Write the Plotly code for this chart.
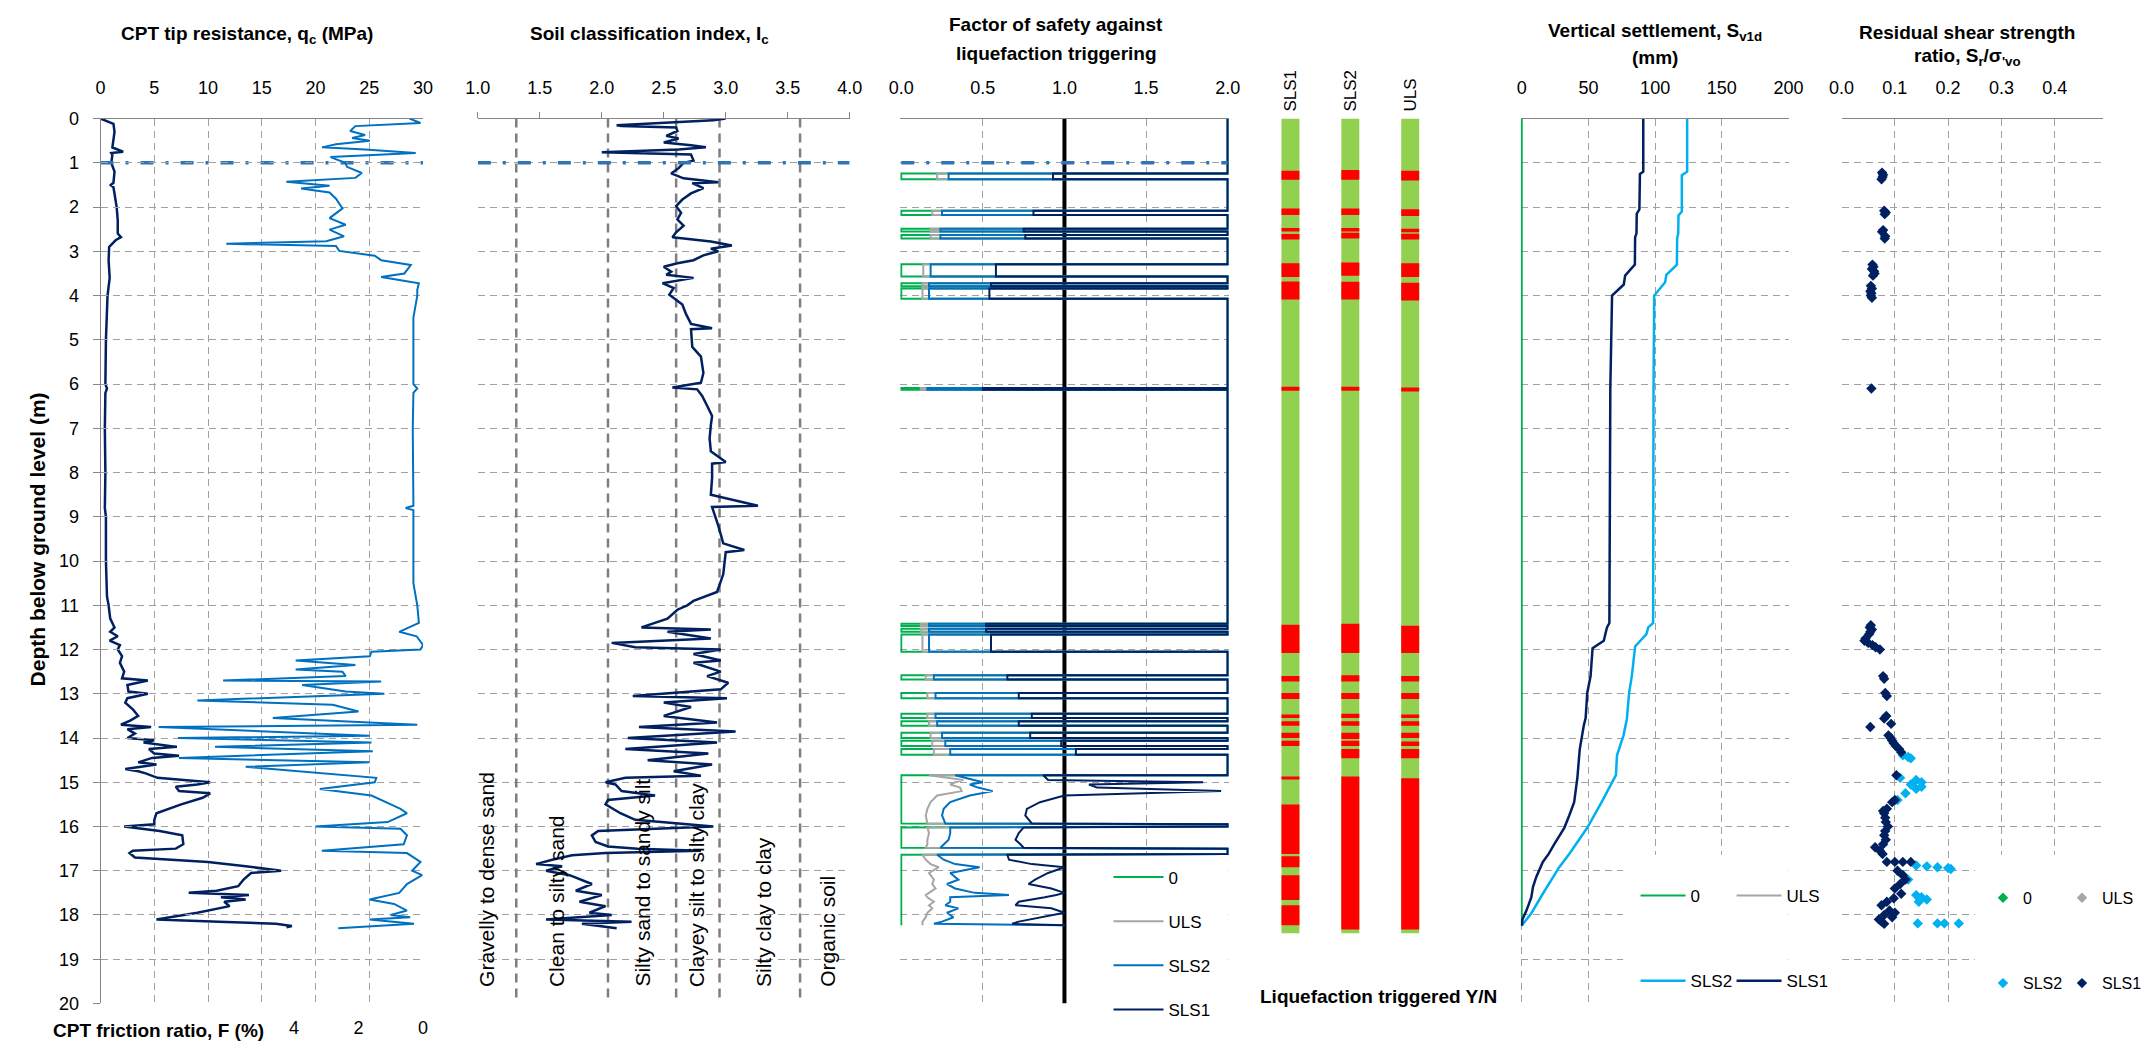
import plotly.graph_objects as go

# ---------------------------------------------------------------- data
# Panel 1: CPT tip resistance qc (MPa) and friction ratio F (%)
qc_depth = [0, 0.12, 0.3, 0.5, 0.65, 0.75, 0.78, 0.82, 1.0, 1.2,
            1.45, 1.5, 1.55, 1.7, 2.0, 2.3, 2.6, 2.68, 2.75, 2.9,
            3.2, 3.6, 4.0, 5.0, 6.0, 6.1, 6.2, 7.0, 8.0, 8.8,
            9.0, 10.0, 10.8, 11.0, 11.3, 11.5, 11.6, 11.7, 11.8, 11.9,
            12.0, 12.15, 12.3, 12.5, 12.65, 12.7, 12.8, 12.95, 13.0, 13.1,
            13.2, 13.35, 13.5, 13.6, 13.7, 13.75, 13.8, 13.9, 14.0, 14.05,
            14.1, 14.2, 14.25, 14.35, 14.4, 14.45, 14.55, 14.6, 14.7, 14.75,
            14.8, 14.9, 15.0, 15.05, 15.1, 15.2, 15.25, 15.35, 15.5, 15.7,
            15.85, 15.95, 16.0, 16.1, 16.2, 16.4, 16.5, 16.55, 16.6, 16.7,
            16.8, 16.9, 17.0, 17.05, 17.2, 17.35, 17.45, 17.5, 17.55, 17.6,
            17.65, 17.7, 17.8, 17.95, 18.05, 18.1, 18.15, 18.2, 18.25, 18.28]
qc_mpa = [0, 1.2, 1.3, 1.2, 1.1, 2.1, 1.0, 1.1, 1.0, 1.3,
          1.2, 0.95, 1.2, 1.3, 1.5, 1.6, 1.6, 1.9, 1.4, 0.8,
          0.75, 0.85, 0.65, 0.5, 0.45, 0.6, 0.45, 0.4, 0.45, 0.4,
          0.5, 0.5, 0.6, 0.75, 0.9, 1.3, 0.9, 1.6, 0.85, 1.8,
          1.6, 2.0, 1.8, 2.2, 2.0, 4.4, 2.5, 2.6, 4.4, 2.5,
          2.3, 3.0, 3.5, 2.8, 1.9, 4.7, 2.5, 3.2, 2.5, 5.0,
          4.0, 7.1, 4.5, 5.0, 7.3, 4.8, 3.5, 5.2, 2.3, 3.5,
          4.2, 5.3, 10.2, 9.0, 7.0, 7.3, 10.2, 9.5, 7.5, 5.2,
          5.0, 5.0, 2.2, 5.5, 7.6, 7.7, 7.0, 3.0, 2.7, 3.2,
          10.0, 13.5, 16.8, 14.0, 13.3, 12.8, 10.8, 8.2, 13.8, 11.2,
          13.5, 11.5, 12.0, 9.0, 6.5, 5.2, 11.0, 16.3, 17.8, 17.3]

fr_depth = [0, 0.1, 0.17, 0.28, 0.37, 0.44, 0.5, 0.58, 0.65, 0.7,
            0.78, 0.87, 1.0, 1.09, 1.23, 1.34, 1.43, 1.52, 1.58, 1.67,
            1.81, 2.03, 2.25, 2.4, 2.51, 2.66, 2.77, 2.83, 2.88, 2.99,
            3.1, 3.2, 3.31, 3.5, 3.58, 3.69, 3.72, 3.87, 4.0, 4.5,
            5.5, 6.0, 6.1, 6.2, 7.0, 8.0, 8.75, 8.8, 8.85, 9.5,
            10.5, 11.0, 11.4, 11.6, 11.7, 11.9, 12.0, 12.05, 12.15, 12.25,
            12.35, 12.45, 12.5, 12.6, 12.7, 12.72, 12.8, 12.95, 13.0, 13.15,
            13.25, 13.4, 13.55, 13.7, 13.75, 13.95, 14.0, 14.1, 14.2, 14.3,
            14.45, 14.55, 14.65, 14.9, 15.0, 15.15, 15.3, 15.5, 15.6, 15.7,
            15.9, 16.0, 16.05, 16.2, 16.4, 16.55, 16.6, 16.8, 17.0, 17.1,
            17.3, 17.5, 17.65, 17.75, 17.9, 18.0, 18.05, 18.1, 18.2, 18.3]
fr_pct = [0.42, 0.08, 2.1, 2.26, 1.8, 2.2, 1.65, 2.7, 3.13, 1.8,
          0.23, 2.87, 2.41, 2.36, 1.9, 2.1, 4.24, 2.9, 3.78, 2.9,
          2.7, 2.5, 2.9, 2.4, 2.9, 2.45, 3.0, 6.1, 2.7, 2.6,
          1.5, 1.3, 0.38, 0.58, 1.3, 0.28, 0.13, 0.18, 0.18, 0.3,
          0.3, 0.3, 0.18, 0.3, 0.32, 0.3, 0.3, 0.54, 0.3, 0.3,
          0.3, 0.18, 0.13, 0.74, 0.2, 0.0, 0.08, 1.6, 1.65, 3.95,
          2.1, 3.95, 2.5, 2.4, 6.2, 1.3, 3.75, 2.4, 1.2, 7.0,
          2.8, 2.0, 4.66, 0.18, 8.2, 1.66, 7.6, 1.6, 6.45, 1.56,
          7.57, 1.66, 5.5, 1.45, 1.5, 3.2, 1.6, 1.0, 0.7, 0.5,
          1.1, 3.34, 0.7, 0.5, 0.6, 3.14, 0.5, 0.08, 0.34, 0.03,
          0.5, 0.74, 1.66, 0.9, 0.5, 1.0, 0.4, 1.66, 0.28, 2.63]

# Panel 2: soil behaviour type index Ic
ic_depth = [0, 0.04, 0.15, 0.17, 0.2, 0.28, 0.39, 0.45, 0.54, 0.6,
            0.65, 0.7, 0.76, 0.81, 0.95, 1.0, 1.12, 1.24, 1.35, 1.44,
            1.46, 1.57, 1.69, 1.83, 1.98, 2.13, 2.28, 2.42, 2.57, 2.68,
            2.78, 2.87, 2.94, 3.0, 3.09, 3.2, 3.27, 3.35, 3.46, 3.53,
            3.6, 3.72, 3.83, 3.98, 4.2, 4.42, 4.64, 4.74, 4.76, 5.16,
            5.38, 5.75, 5.97, 6.08, 6.12, 6.27, 6.49, 6.72, 6.93, 7.23,
            7.52, 7.76, 7.8, 8.12, 8.5, 8.75, 8.78, 9.2, 9.6, 9.75,
            9.8, 10.3, 10.7, 10.9, 11.0, 11.1, 11.3, 11.5, 11.55, 11.6,
            11.75, 11.85, 11.95, 12.0, 12.1, 12.25, 12.3, 12.5, 12.6, 12.75,
            12.9, 13.05, 13.1, 13.2, 13.3, 13.5, 13.65, 13.75, 13.85, 14.0,
            14.1, 14.25, 14.35, 14.5, 14.6, 14.75, 14.85, 14.9, 15.0, 15.05,
            15.2, 15.3, 15.4, 15.5, 15.7, 15.85, 16.0, 16.05, 16.1, 16.2,
            16.35, 16.45, 16.5, 16.55, 16.6, 16.65, 16.75, 16.85, 16.9, 17.0,
            17.1, 17.3, 17.45, 17.55, 17.7, 17.8, 17.95, 18.0, 18.1, 18.15,
            18.2, 18.3]
ic_val = [3.0, 2.9, 2.12, 2.16, 2.6, 2.61, 2.52, 2.62, 2.5, 2.72,
          2.84, 2.62, 2.0, 2.72, 2.74, 2.66, 2.62, 2.56, 2.66, 2.94,
          2.73, 2.82, 2.72, 2.65, 2.6, 2.64, 2.61, 2.66, 2.6, 2.57,
          2.88, 3.05, 2.88, 2.94, 2.82, 2.74, 2.61, 2.5, 2.56, 2.52,
          2.74, 2.49, 2.58, 2.545, 2.65, 2.68, 2.72, 2.89, 2.72, 2.73,
          2.8, 2.82, 2.8, 2.57, 2.77, 2.81, 2.85, 2.89, 2.88, 2.87,
          2.88, 3.0, 2.89, 2.89, 2.88, 3.26, 2.89, 2.94, 2.98, 3.15,
          3.0, 2.98, 2.93, 2.74, 2.69, 2.61, 2.53, 2.32, 2.88, 2.53,
          2.88, 2.08, 2.27, 2.96, 2.74, 2.96, 2.74, 2.96, 2.85, 3.02,
          2.96, 2.25, 3.01, 2.5, 2.72, 2.5, 2.93, 2.3, 3.08, 2.21,
          2.93, 2.19, 2.86, 2.37, 2.89, 2.58, 2.8, 2.19, 2.03, 2.11,
          2.16, 2.43, 2.05, 2.03, 2.15, 2.27, 2.9, 2.45, 1.97, 1.92,
          1.95, 2.05, 2.29, 2.8, 2.03, 1.76, 1.6, 1.47, 1.68, 1.55,
          1.74, 1.92, 1.79, 2.0, 1.82, 2.03, 1.9, 2.08, 1.55, 2.24,
          1.84, 2.12]
ic_boundaries = [1.31, 2.05, 2.60, 2.95, 3.60]
soil_labels = ["Gravelly to dense sand", "Clean to silty sand", "Silty sand to sandy silt",
               "Clayey silt to silty clay", "Silty clay to clay", "Organic soil"]
gwl_depth = 1.0

# Panel 3: factor of safety (capped at 2.0) - thin liquefiable layers then continuous part
fos_cap = 2.0
fos_layer_top = [1.24, 2.08, 2.49, 2.63, 3.29, 3.72, 3.84, 6.09, 11.42, 11.53, 11.66, 12.58, 12.98, 13.45, 13.62, 13.88, 14.06, 14.25]
fos_layer_bot = [1.37, 2.18, 2.55, 2.71, 3.57, 3.79, 4.07, 6.13, 11.47, 11.60, 12.05, 12.68, 13.10, 13.55, 13.72, 14.00, 14.18, 14.38]
fos_layer_zero = [0.0, 0.0, 0.0, 0.0, 0.0, 0.0, 0.0, 0.0, 0.0, 0.0, 0.0, 0.0, 0.0, 0.0, 0.0, 0.0, 0.0, 0.0]
fos_layer_uls = [0.22, 0.19, 0.18, 0.18, 0.135, 0.13, 0.13, 0.12, 0.12, 0.12, 0.13, 0.15, 0.16, 0.16, 0.17, 0.18, 0.19, 0.20]
fos_layer_sls2 = [0.29, 0.25, 0.24, 0.24, 0.18, 0.17, 0.17, 0.16, 0.17, 0.17, 0.17, 0.20, 0.21, 0.21, 0.22, 0.25, 0.27, 0.30]
fos_layer_sls1 = [0.93, 0.81, 0.75, 0.76, 0.58, 0.55, 0.54, 0.50, 0.52, 0.52, 0.55, 0.65, 0.72, 0.80, 0.72, 0.79, 0.98, 1.07]

fos_low_depth = [14.84, 14.95, 15.0, 15.05, 15.12, 15.2, 15.3, 15.45, 15.6, 15.75,
                 15.93, 15.95, 16.0, 16.02, 16.15, 16.3, 16.4, 16.48, 16.5, 16.62,
                 16.64, 16.75, 16.85, 16.92, 17.05, 17.2, 17.3, 17.4, 17.5, 17.55,
                 17.6, 17.7, 17.78, 17.85, 17.95, 18.05, 18.15, 18.2, 18.23]
fos_low_zero = [0, 0, 0, 0, 0, 0, 0, 0, 0, 0,
                0, 2.0, 2.0, 0, 0, 0, 0, 0, 2.0, 2.0,
                0, 0, 0, 0, 0, 0, 0, 0, 0, 0,
                0, 0, 0, 0, 0, 0, 0, 0, 0]
fos_low_uls = [0.17, 0.38, 0.33, 0.30, 0.36, 0.37, 0.22, 0.18, 0.16, 0.15,
               0.16, 2.0, 2.0, 0.16, 0.17, 0.16, 0.16, 0.15, 2.0, 2.0,
               0.13, 0.15, 0.18, 0.23, 0.17, 0.20, 0.19, 0.21, 0.17, 0.15,
               0.16, 0.20, 0.17, 0.19, 0.16, 0.15, 0.13, 0.13, 0.13]
fos_low_sls2 = [0.33, 0.45, 0.50, 0.42, 0.47, 0.56, 0.42, 0.30, 0.26, 0.25,
                0.27, 2.0, 2.0, 0.30, 0.30, 0.29, 0.26, 0.24, 2.0, 2.0,
                0.22, 0.26, 0.33, 0.48, 0.30, 0.35, 0.28, 0.33, 0.45, 0.66,
                0.30, 0.30, 0.27, 0.35, 0.28, 0.32, 0.25, 0.20, 1.00]
fos_low_sls1 = [0.87, 0.90, 1.85, 1.15, 1.20, 1.96, 1.00, 0.85, 0.77, 0.76,
                0.80, 2.0, 2.0, 0.75, 0.72, 0.70, 0.73, 0.75, 2.0, 2.0,
                0.65, 0.66, 0.80, 1.00, 0.90, 0.82, 0.78, 0.92, 1.00, 0.95,
                0.88, 0.72, 0.70, 0.92, 1.00, 0.85, 0.72, 0.68, 1.00]

# Liquefaction triggered Y/N (red bands = triggered)
liq_cases = ["SLS1", "SLS2", "ULS"]
liq_bottom = 18.41
liq_sls1_top = [1.18, 2.03, 2.47, 2.61, 3.27, 3.68, 6.06, 11.44, 12.60, 12.98, 13.47, 13.62, 13.88, 14.06, 14.87, 15.50, 16.67, 17.10, 17.78]
liq_sls1_bot = [1.38, 2.18, 2.55, 2.73, 3.58, 4.09, 6.15, 12.08, 12.72, 13.12, 13.55, 13.72, 14.00, 14.18, 14.94, 16.62, 16.92, 17.66, 18.23]
liq_sls2_top = [1.16, 2.03, 2.47, 2.58, 3.25, 3.69, 6.06, 11.42, 12.58, 12.98, 13.45, 13.62, 13.88, 14.06, 14.25, 14.87]
liq_sls2_bot = [1.38, 2.18, 2.55, 2.71, 3.55, 4.09, 6.15, 12.08, 12.72, 13.12, 13.55, 13.72, 14.02, 14.18, 14.46, 18.33]
liq_uls_top = [1.18, 2.05, 2.49, 2.60, 3.27, 3.71, 6.08, 11.46, 12.60, 12.98, 13.47, 13.62, 13.88, 14.08, 14.25, 14.91]
liq_uls_bot = [1.40, 2.20, 2.57, 2.73, 3.58, 4.11, 6.17, 12.08, 12.72, 13.12, 13.55, 13.72, 14.00, 14.18, 14.46, 18.33]

# Panel 4: vertical settlement (mm)
set_zero_depth = [0, 18.24]
set_zero = [0, 0]
set_sls2_depth = [0, 1.2, 1.28, 2.1, 2.19, 2.6, 2.71, 3.3, 3.53, 3.7, 4.0, 6.1, 11.4, 11.5, 11.65,
                  11.93, 12.6, 12.98, 13.57, 13.94, 14.39, 14.84, 15.43, 16.03, 16.62, 16.92, 17.52, 17.96, 18.24]
set_sls2 = [124, 124, 120, 120, 117.5, 117.3, 116.5, 116.3, 108.4, 107.5, 99.3, 98.8, 98.5, 94.8, 93.5,
            85, 82.5, 80.5, 78.8, 76.3, 71.4, 70.6, 60.2, 49.1, 35.6, 28.1, 15.8, 7.2, 0]
set_sls1_depth = [0, 1.2, 1.25, 2.05, 2.15, 2.6, 2.68, 3.3, 3.55, 3.75, 4.0, 6.1, 11.4, 11.5, 11.65, 11.8, 11.97,
                  12.6, 12.98, 13.55, 13.72, 13.95, 14.25, 14.9, 15.45, 15.75, 16.03, 16.4, 16.62, 16.8, 17.14,
                  17.37, 17.6, 17.9, 18.1, 18.24]
set_sls1 = [91.1, 91.1, 88.6, 88.2, 86.2, 86.0, 85.0, 84.8, 77.5, 76.5, 67.7, 66.4, 65.7, 63.9, 62.7, 61.5, 53.1,
            51.6, 49.1, 47.9, 46.5, 45.4, 43.5, 41.7, 39.3, 35.6, 31.9, 24.4, 20.2, 15.8, 10.9,
            8.4, 7.2, 3.5, 0.5, 0]

# Panel 5: residual shear strength ratio
rs2_depth = [14.39, 14.43, 14.46, 14.90, 14.95, 15.00, 15.05, 15.10, 15.15, 15.25, 15.40, 16.88, 16.90,
             16.92, 16.94, 16.96, 17.10, 17.20, 17.55, 17.60, 17.65, 17.70, 18.19, 18.19, 18.19, 18.19]
rs2_val = [0.115, 0.125, 0.130, 0.110, 0.140, 0.150, 0.130, 0.150, 0.140, 0.120, 0.105, 0.140, 0.160,
           0.180, 0.200, 0.205, 0.115, 0.125, 0.140, 0.150, 0.160, 0.145, 0.143, 0.180, 0.193, 0.220]
rs1_depth = [1.22, 1.27, 1.32, 1.37, 2.08, 2.12, 2.16, 2.52, 2.56, 2.66,
             2.71, 3.30, 3.35, 3.40, 3.45, 3.50, 3.55, 3.78, 3.84, 3.90,
             3.95, 4.00, 4.05, 6.10, 11.45, 11.50, 11.55, 11.60, 11.65, 11.75,
             11.80, 11.85, 11.90, 11.95, 12.00, 12.60, 12.66, 12.98, 13.05, 13.50,
             13.56, 13.68, 13.75, 13.94, 14.00, 14.06, 14.12, 14.18, 14.25, 14.32,
             14.84, 15.40, 15.45, 15.60, 15.65, 15.70, 15.80, 15.90, 16.00, 16.10,
             16.20, 16.30, 16.40, 16.47, 16.55, 16.62, 16.80, 16.80, 16.80, 16.80,
             17.00, 17.10, 17.20, 17.30, 17.40, 17.52, 17.62, 17.70, 17.78, 17.90,
             17.95, 18.00, 18.05, 18.10, 18.15, 18.20]
rs1_val = [0.076, 0.078, 0.077, 0.075, 0.080, 0.083, 0.081, 0.078, 0.076, 0.082,
           0.081, 0.058, 0.060, 0.057, 0.061, 0.062, 0.059, 0.055, 0.057, 0.054,
           0.056, 0.055, 0.057, 0.056, 0.055, 0.053, 0.057, 0.054, 0.052, 0.045,
           0.043, 0.050, 0.058, 0.064, 0.072, 0.078, 0.080, 0.082, 0.085, 0.084,
           0.080, 0.093, 0.054, 0.088, 0.092, 0.095, 0.098, 0.102, 0.108, 0.112,
           0.103, 0.100, 0.095, 0.085, 0.078, 0.080, 0.082, 0.083, 0.087, 0.082,
           0.080, 0.083, 0.078, 0.063, 0.072, 0.077, 0.085, 0.100, 0.115, 0.130,
           0.105, 0.115, 0.120, 0.110, 0.100, 0.112, 0.098, 0.085, 0.075, 0.090,
           0.100, 0.080, 0.095, 0.070, 0.075, 0.080]

# ---------------------------------------------------------------- style
W, H = 2147, 1054
FONT = "Liberation Sans, Arial, sans-serif"
NAVY = "#002060"
MIDBLUE = "#0070C0"
LIGHTBLUE = "#00B0F0"
GREY = "#A6A6A6"
GREEN = "#00B050"
GWL = "#2E75B6"
GRID = "#A0A0A0"
AXLINE = "#868686"
GWL_DASH = "13px,12px,3px,12px"


def fx(p):
    return p / W


def fy(p):
    return 1 - p / H


ydom = [fy(1012.7), fy(110.7)]


def fos_profile(layer_vals, low_vals):
    d, v = [0.0], [fos_cap]
    for t, b, val in zip(fos_layer_top, fos_layer_bot, layer_vals):
        d += [t, t, b, b]
        v += [fos_cap, val, val, fos_cap]
    d += [fos_low_depth[0]] + fos_low_depth
    v += [fos_cap] + low_vals
    return d, v


fig = go.Figure()

# white boxes behind the legends (hide the gridlines there, as the original legend boxes do)
for xa, x0, x1 in [("x3", 1.012, 2.3), ("x5", 76, 260), ("x6", 0.25, 0.6)]:
    fig.add_trace(go.Scatter(x=[x0, x1, x1, x0, x0], y=[16.64, 16.64, 20.6, 20.6, 16.64],
                             xaxis=xa, yaxis="y", mode="lines", fill="toself", fillcolor="white",
                             line=dict(width=0, color="white"), hoverinfo="skip", showlegend=False))

# ---- panel 1
fig.add_trace(go.Scatter(x=fr_pct, y=fr_depth, xaxis="x7", yaxis="y", mode="lines",
                         line=dict(color=MIDBLUE, width=2), showlegend=False))
fig.add_trace(go.Scatter(x=qc_mpa, y=qc_depth, xaxis="x", yaxis="y", mode="lines",
                         line=dict(color=NAVY, width=2.5), showlegend=False))
fig.add_trace(go.Scatter(x=[0, 30], y=[gwl_depth, gwl_depth], xaxis="x", yaxis="y", mode="lines",
                         line=dict(color=GWL, width=3.5, dash=GWL_DASH), showlegend=False))

# ---- panel 2
for b in ic_boundaries:
    fig.add_trace(go.Scatter(x=[b, b], y=[0, 20], xaxis="x2", yaxis="y", mode="lines",
                             line=dict(color="#7F7F7F", width=2.5, dash="9px,6px"), showlegend=False))
fig.add_trace(go.Scatter(x=ic_val, y=ic_depth, xaxis="x2", yaxis="y", mode="lines",
                         line=dict(color=NAVY, width=2.5), showlegend=False))
fig.add_trace(go.Scatter(x=[1, 4], y=[gwl_depth, gwl_depth], xaxis="x2", yaxis="y", mode="lines",
                         line=dict(color=GWL, width=3.5, dash=GWL_DASH), showlegend=False))

# ---- panel 3
fig.add_trace(go.Scatter(x=[1, 1], y=[0, 20], xaxis="x3", yaxis="y", mode="lines",
                         line=dict(color="black", width=4), showlegend=False))
for name, lv, lo, col, grp in [("0", fos_layer_zero, fos_low_zero, GREEN, "g0"),
                               ("ULS", fos_layer_uls, fos_low_uls, GREY, "gu"),
                               ("SLS2", fos_layer_sls2, fos_low_sls2, MIDBLUE, "g2"),
                               ("SLS1", fos_layer_sls1, fos_low_sls1, NAVY, "g1")]:
    d, v = fos_profile(lv, lo)
    fig.add_trace(go.Scatter(x=v, y=d, xaxis="x3", yaxis="y", mode="lines", name=name,
                             line=dict(color=col, width=2), legend="legend", legendgroup=grp))
fig.add_trace(go.Scatter(x=[0, 2], y=[gwl_depth, gwl_depth], xaxis="x3", yaxis="y", mode="lines",
                         line=dict(color=GWL, width=3.5, dash=GWL_DASH), showlegend=False))

# ---- liquefaction bars
fig.add_trace(go.Bar(x=liq_cases, y=[liq_bottom] * 3, base=[0, 0, 0], xaxis="x4", yaxis="y2",
                     width=0.3, marker=dict(color="#92D050", line=dict(width=0)), showlegend=False))
red_x, red_base, red_len = [], [], []
for case, tops, bots in [("SLS1", liq_sls1_top, liq_sls1_bot),
                         ("SLS2", liq_sls2_top, liq_sls2_bot),
                         ("ULS", liq_uls_top, liq_uls_bot)]:
    for t, b in zip(tops, bots):
        red_x.append(case)
        red_base.append(t)
        red_len.append(b - t)
fig.add_trace(go.Bar(x=red_x, y=red_len, base=red_base, xaxis="x4", yaxis="y2", width=0.3,
                     marker=dict(color="#FF0000", line=dict(width=0)), showlegend=False))

# ---- panel 4
fig.add_trace(go.Scatter(x=set_zero, y=set_zero_depth, xaxis="x5", yaxis="y", mode="lines", name="0",
                         line=dict(color=GREEN, width=2), legend="legend2"))
fig.add_trace(go.Scatter(x=[None], y=[None], xaxis="x5", yaxis="y", mode="lines", name="ULS",
                         line=dict(color=GREY, width=2), legend="legend2"))
fig.add_trace(go.Scatter(x=set_sls2, y=set_sls2_depth, xaxis="x5", yaxis="y", mode="lines", name="SLS2",
                         line=dict(color=LIGHTBLUE, width=2.5), legend="legend3"))
fig.add_trace(go.Scatter(x=set_sls1, y=set_sls1_depth, xaxis="x5", yaxis="y", mode="lines", name="SLS1",
                         line=dict(color=NAVY, width=2.5), legend="legend3"))

# ---- panel 5
mk = dict(symbol="diamond", size=8, line=dict(width=0))
fig.add_trace(go.Scatter(x=[None], y=[None], xaxis="x6", yaxis="y", mode="markers", name="0",
                         marker=dict(mk, color=GREEN), legend="legend4"))
fig.add_trace(go.Scatter(x=[None], y=[None], xaxis="x6", yaxis="y", mode="markers", name="ULS",
                         marker=dict(mk, color=GREY), legend="legend4"))
fig.add_trace(go.Scatter(x=rs2_val, y=rs2_depth, xaxis="x6", yaxis="y", mode="markers", name="SLS2",
                         marker=dict(mk, color=LIGHTBLUE), legend="legend5"))
fig.add_trace(go.Scatter(x=rs1_val, y=rs1_depth, xaxis="x6", yaxis="y", mode="markers", name="SLS1",
                         marker=dict(mk, color=NAVY), legend="legend5"))

# ---------------------------------------------------------------- axes
tickfont = dict(size=18, color="black", family=FONT)
base_x = dict(side="top", anchor="y", showline=True, linecolor=AXLINE, linewidth=1, zeroline=False,
              tickfont=tickfont, ticks="", ticklabelstandoff=16, griddash="7px,5px",
              gridcolor=GRID, gridwidth=1, fixedrange=True)
legfont = dict(size=17, family=FONT, color="black")

fig.update_layout(
    width=W, height=H, autosize=False,
    margin=dict(l=0, r=0, t=0, b=0, pad=0),
    paper_bgcolor="white", plot_bgcolor="rgba(0,0,0,0)",
    font=dict(family=FONT, color="black"),
    barmode="overlay",
    xaxis=dict(base_x, domain=[fx(88.7), fx(415.5)], range=[0, 30], dtick=5, showgrid=True),
    xaxis7=dict(domain=[fx(88.7), fx(415.5)], side="bottom", anchor="y", range=[10, 0], tickvals=[0, 2, 4],
                showgrid=False, showline=False, zeroline=False, tickfont=tickfont, ticks="",
                ticklabelstandoff=12, fixedrange=True),
    xaxis2=dict(base_x, domain=[fx(471), fx(847.7)], range=[1, 4], dtick=0.5, tickformat=".1f",
                showgrid=False, ticks="outside", ticklen=6, tickcolor=AXLINE, ticklabelstandoff=10),
    xaxis3=dict(base_x, domain=[fx(899), fx(1231.7)], range=[-0.006, 2.006],
                tickvals=[0, 0.5, 1, 1.5, 2], ticktext=["0.0", "0.5", "1.0", "1.5", "2.0"], showgrid=True),
    xaxis4=dict(domain=[fx(1264), fx(1446)], type="category", categoryorder="array",
                categoryarray=liq_cases, anchor="y2", side="top", tickangle=-90, showline=False,
                showgrid=False, zeroline=False, ticks="", ticklabelstandoff=6, fixedrange=True,
                tickfont=dict(size=17, color="black", family=FONT)),
    xaxis5=dict(base_x, domain=[fx(1527.6), fx(1799)], range=[-0.8, 200],
                tickvals=[0, 50, 100, 150, 200], showgrid=True),
    xaxis6=dict(base_x, domain=[fx(1852.7), fx(2118)], range=[0, 0.4913],
                tickvals=[0, 0.1, 0.2, 0.3, 0.4], ticktext=["0.0", "0.1", "0.2", "0.3", "0.4"], showgrid=True),
    yaxis=dict(domain=ydom, range=[20, 0], dtick=1, anchor="x", showgrid=True, griddash="7px,5px",
               gridcolor=GRID, gridwidth=1, showline=True, linecolor=AXLINE, ticks="outside", ticklen=7,
               tickcolor=AXLINE, tickfont=tickfont, zeroline=False, ticklabelstandoff=10, fixedrange=True),
    yaxis2=dict(domain=ydom, range=[20, 0], anchor="x4", visible=False, fixedrange=True),
    legend=dict(x=fx(1110), y=fy(866), xanchor="left", yanchor="top", bgcolor="rgba(0,0,0,0)",
                font=legfont, tracegroupgap=19, itemwidth=50),
    legend2=dict(orientation="h", x=fx(1644), y=fy(903), xanchor="left", yanchor="middle",
                 bgcolor="rgba(0,0,0,0)", font=legfont, itemwidth=45, entrywidth=36),
    legend3=dict(orientation="h", x=fx(1644), y=fy(990), xanchor="left", yanchor="middle",
                 bgcolor="rgba(0,0,0,0)", font=legfont, itemwidth=45, entrywidth=36),
    legend4=dict(orientation="h", x=fx(1996), y=fy(905), xanchor="left", yanchor="middle",
                 bgcolor="rgba(0,0,0,0)", font=dict(legfont, size=16), itemwidth=30, entrywidth=34),
    legend5=dict(orientation="h", x=fx(1996), y=fy(992), xanchor="left", yanchor="middle",
                 bgcolor="rgba(0,0,0,0)", font=dict(legfont, size=16), itemwidth=30, entrywidth=34),
)

# ---------------------------------------------------------------- text
TF = dict(size=19, color="black", family=FONT)
ann = [
    (237, 25, "<b>CPT tip resistance, q<sub>c</sub> (MPa)</b>"),
    (645, 25, "<b>Soil classification index, I<sub>c</sub></b>"),
    (1057, 15, "<b>Factor of safety against</b>"),
    (1057, 44, "<b>liquefaction triggering</b>"),
    (1664, 22, "<b>Vertical settlement, S<sub>v1d</sub></b>"),
    (1664, 48, "<b>(mm)</b>"),
    (1980, 23, "<b>Residual shear strength</b>"),
    (1980, 48, "<b>ratio, S<sub>r</sub>/σ<sub>'vo</sub></b>"),
    (1384, 1006, "<b>Liquefaction triggered Y/N</b>"),
    (147, 1040, "<b>CPT friction ratio, F (%)</b>"),
]
for x, y, t in ann:
    fig.add_annotation(x=fx(x), y=fy(y), xref="paper", yref="paper", text=t, showarrow=False,
                       xanchor="center", yanchor="middle", font=TF)
fig.add_annotation(x=fx(25), y=fy(540), xref="paper", yref="paper", text="<b>Depth below ground level (m)</b>",
                   showarrow=False, textangle=-90, xanchor="center", yanchor="middle",
                   font=dict(size=21, color="black", family=FONT))
for lab, xp in zip(soil_labels, [1.07, 1.64, 2.33, 2.76, 3.31, 3.82]):
    fig.add_annotation(x=xp, y=19.67, xref="x2", yref="y", text=lab, showarrow=False, textangle=-90,
                       xanchor="center", yanchor="bottom", font=dict(size=21, color="black", family=FONT))

fig.write_html("out.html", config={"displayModeBar": False},
               post_script="document.body.style.margin='0px';document.body.style.padding='0px';")
